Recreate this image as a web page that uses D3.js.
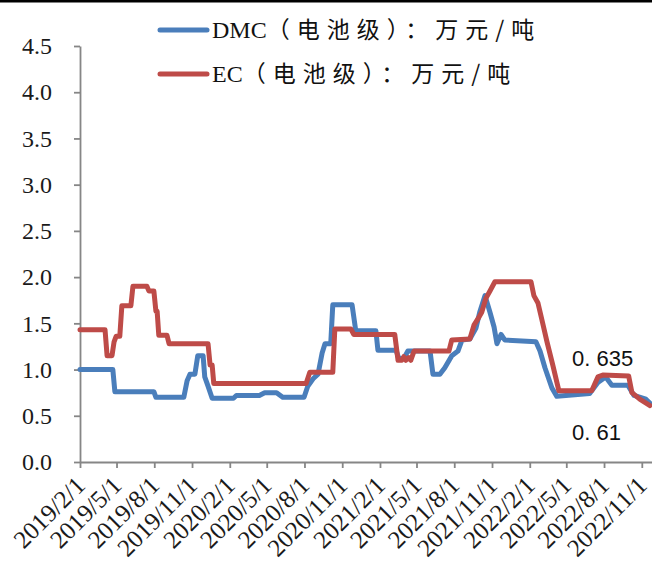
<!DOCTYPE html>
<html>
<head>
<meta charset="utf-8">
<script src="https://cdn.jsdelivr.net/npm/d3@7"></script>
<style>
  body { margin: 0; background: #fff; }
  svg { display: block; }
</style>
</head>
<body>
<svg id="chart" width="652" height="577"></svg>
<script>
// Quarterly axis labels
const tickLabels = ["2019/2/1","2019/5/1","2019/8/1","2019/11/1","2020/2/1","2020/5/1","2020/8/1","2020/11/1",
  "2021/2/1","2021/5/1","2021/8/1","2021/11/1","2022/2/1","2022/5/1","2022/8/1","2022/11/1"];
const yTicks = [0, 0.5, 1.0, 1.5, 2.0, 2.5, 3.0, 3.5, 4.0, 4.5];
const seriesCodes = ["DMC", "EC"];
const seriesUnits = ["（电池级）：万元/吨", "（电池级）：万元/吨"];
const endLabels = ["0. 635", "0. 61"];

// DMC battery-grade price, 10k CNY / ton
const dmcDates = ["2019-02-01","2019-04-22","2019-04-27","2019-07-31","2019-08-05","2019-10-12","2019-10-20","2019-10-27",
  "2019-11-08","2019-11-15","2019-11-28","2019-12-02","2019-12-10","2019-12-20","2020-02-10","2020-02-17","2020-04-13",
  "2020-04-26","2020-05-25","2020-06-09","2020-07-31","2020-08-09","2020-08-22","2020-09-03","2020-09-13","2020-09-20",
  "2020-10-04","2020-10-09","2020-11-25","2020-12-04","2021-01-22","2021-01-27","2021-03-12","2021-03-19","2021-03-31",
  "2021-04-10","2021-06-03","2021-06-10","2021-06-27","2021-07-09","2021-07-26","2021-08-10","2021-08-20","2021-09-08",
  "2021-09-23","2021-10-02","2021-10-15","2021-10-27","2021-11-06","2021-11-13","2021-11-23","2021-12-02","2022-02-16",
  "2022-02-26","2022-03-10","2022-03-27","2022-04-08","2022-06-27","2022-07-17","2022-08-05","2022-08-20","2022-09-28",
  "2022-10-13","2022-11-11","2022-11-21"];
const dmcValues = [1.00,1.00,0.76,0.76,0.70,0.70,0.88,0.95,
  0.95,1.15,1.15,0.92,0.82,0.69,0.69,0.72,0.72,
  0.75,0.75,0.70,0.70,0.82,0.90,0.95,1.18,1.28,
  1.28,1.70,1.70,1.42,1.42,1.21,1.21,1.12,1.12,
  1.20,1.20,0.95,0.95,1.02,1.15,1.20,1.32,1.33,
  1.45,1.62,1.80,1.62,1.46,1.28,1.38,1.32,1.30,
  1.20,1.02,0.80,0.71,0.74,0.86,0.92,0.83,0.83,
  0.72,0.68,0.635];

// EC battery-grade price, 10k CNY / ton
const ecDates = ["2019-02-01","2019-04-03","2019-04-08","2019-04-20","2019-04-25","2019-04-30","2019-05-09","2019-05-14",
  "2019-06-05","2019-06-10","2019-07-14","2019-07-19","2019-07-31","2019-08-05","2019-08-08","2019-08-12","2019-09-01",
  "2019-09-06","2019-12-10","2019-12-15","2019-12-20","2019-12-24","2020-08-05","2020-08-14","2020-10-09","2020-10-14",
  "2020-11-22","2020-11-29","2021-03-09","2021-03-17","2021-03-26","2021-03-31","2021-04-05","2021-04-12","2021-04-17",
  "2021-04-25","2021-07-19","2021-07-26","2021-09-08","2021-09-18","2021-09-28","2021-10-07","2021-10-17","2021-10-27",
  "2021-11-08","2022-02-04","2022-02-11","2022-02-21","2022-03-02","2022-03-15","2022-03-29","2022-04-13","2022-07-02",
  "2022-07-17","2022-07-29","2022-09-30","2022-10-08","2022-10-27","2022-11-21"];
const ecValues = [1.43,1.43,1.15,1.15,1.30,1.36,1.36,1.69,
  1.69,1.90,1.90,1.85,1.85,1.63,1.63,1.37,1.37,
  1.28,1.28,1.05,1.05,0.85,0.85,0.97,0.97,1.44,
  1.44,1.38,1.38,1.10,1.10,1.14,1.10,1.13,1.10,
  1.20,1.20,1.32,1.33,1.48,1.55,1.62,1.77,1.85,
  1.95,1.95,1.80,1.72,1.55,1.30,1.05,0.77,0.77,
  0.92,0.94,0.93,0.75,0.68,0.61];

const colors = ["#4a7ebb", "#be4b48"];
const parse = d3.timeParse("%Y-%m-%d");
const parseTick = d3.timeParse("%Y/%m/%d");

const svg = d3.select("#chart");
const W = 652, H = 577;

// Top border rule
svg.append("rect").attr("x", 0).attr("y", 0).attr("width", W).attr("height", 2.5).attr("fill", "#000");

const x = d3.scaleTime()
  .domain([parse("2019-02-01"), parse("2022-11-21")])
  .range([80, 650]);
const y = d3.scaleLinear().domain([0, 4.5]).range([462, 46]);

const axisColor = "#868686";

// Y axis
const yAxis = svg.append("g").attr("transform", "translate(80,0)")
  .call(d3.axisLeft(y).tickValues(yTicks).tickSize(6).tickSizeOuter(0).tickPadding(22).tickFormat(d3.format(".1f")));
yAxis.select(".domain").attr("stroke", axisColor).attr("stroke-width", 1.8);
yAxis.selectAll(".tick line").attr("stroke", axisColor).attr("stroke-width", 1.8);
yAxis.selectAll(".tick text")
  .attr("font-family", "'Liberation Serif', 'Times New Roman', serif")
  .attr("font-size", 24).attr("fill", "#1a1a1a");

// X axis
const tickDates = tickLabels.map(parseTick);
const xAxis = svg.append("g").attr("transform", "translate(0,462)")
  .call(d3.axisBottom(x).tickValues(tickDates).tickSize(6).tickSizeOuter(0)
    .tickFormat((d, i) => tickLabels[i]));
xAxis.select(".domain").attr("stroke", axisColor).attr("stroke-width", 1.8)
  .attr("d", "M80,0.5H652");
xAxis.selectAll(".tick line").attr("stroke", axisColor).attr("stroke-width", 1.8);
xAxis.selectAll(".tick text")
  .attr("font-family", "'Liberation Serif', 'Times New Roman', serif")
  .attr("font-size", 25).attr("fill", "#1a1a1a")
  .attr("text-anchor", "end")
  .attr("dy", null).attr("y", 0)
  .attr("transform", "translate(6,25) rotate(-45)");

// Series lines
const series = [
  { dates: dmcDates, values: dmcValues },
  { dates: ecDates, values: ecValues }
];
const line = d3.line().x(d => x(d[0])).y(d => y(d[1]));
series.forEach((s, i) => {
  const pts = s.dates.map((d, j) => [parse(d), s.values[j]]);
  svg.append("path").datum(pts)
    .attr("fill", "none").attr("stroke", colors[i]).attr("stroke-width", 5)
    .attr("stroke-linejoin", "round").attr("stroke-linecap", "round")
    .attr("d", line);
});

// Legend
const legendRows = [30, 74];
seriesCodes.forEach((code, i) => {
  const ly = legendRows[i];
  svg.append("line").attr("x1", 160).attr("x2", 207).attr("y1", ly).attr("y2", ly)
    .attr("stroke", colors[i]).attr("stroke-width", 5).attr("stroke-linecap", "round");
  const t = svg.append("text").attr("x", 212).attr("y", ly + 8)
    .attr("font-family", "'Liberation Serif', 'Noto Sans CJK SC', serif")
    .attr("font-size", 24).attr("fill", "#111");
  t.append("tspan").text(code);
  t.append("tspan").attr("letter-spacing", 7)
    .attr("font-family", "'Noto Sans CJK SC', sans-serif").attr("font-size", 23)
    .text(seriesUnits[i]);
});

// End-value annotations
const endPos = [[572, 366], [572, 440]];
endLabels.forEach((t, i) => {
  svg.append("text").attr("x", endPos[i][0]).attr("y", endPos[i][1])
    .attr("font-family", "'Liberation Sans', Arial, sans-serif")
    .attr("font-size", 22).attr("fill", "#111").text(t);
});
</script>
</body>
</html>
